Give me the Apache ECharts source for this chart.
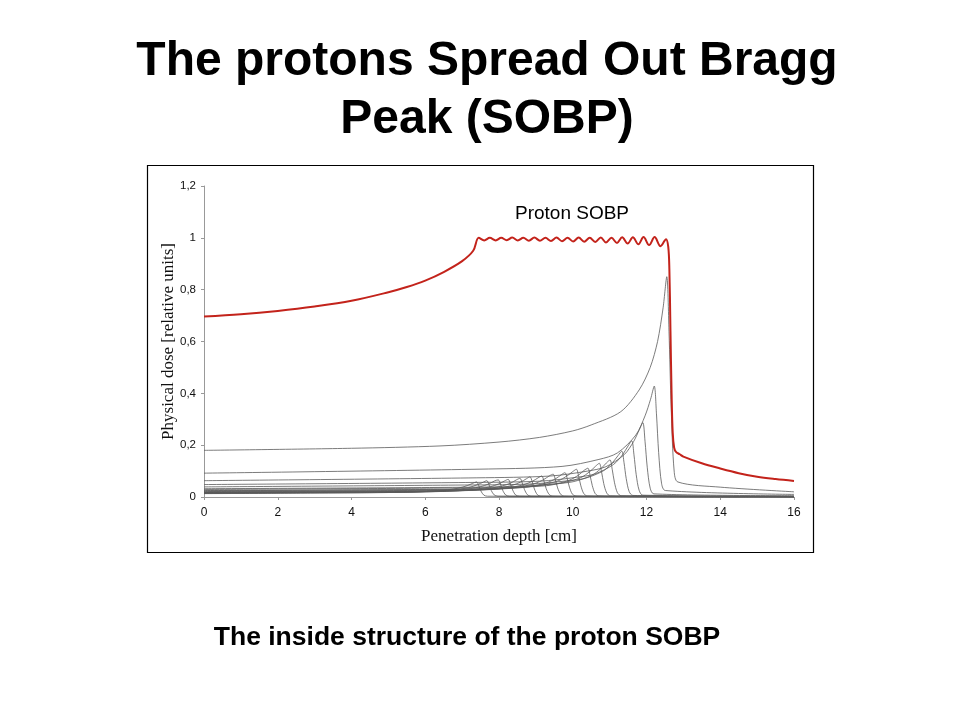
<!DOCTYPE html>
<html>
<head>
<meta charset="utf-8">
<script src="https://cdn.jsdelivr.net/npm/echarts@6/dist/echarts.min.js"></script>
<style>
html,body{margin:0;padding:0;background:#fff;}
#chart{width:960px;height:720px;}
</style>
</head>
<body>
<div id="chart"></div>
<script>
// ---- Axis ticks ----
const xTicks = [0, 2, 4, 6, 8, 10, 12, 14, 16];
const yTicks = [0, 0.2, 0.4, 0.6, 0.8, 1, 1.2];

// ---- Proton SOBP (red) : [depth cm, dose] ----
const sobp = [
  [0, 0.696], [1, 0.705], [2, 0.718], [3, 0.735], [4, 0.757], [5, 0.790],
  [5.5, 0.810], [6, 0.835], [6.5, 0.868], [7, 0.910], [7.3, 0.950], [7.45, 1.000],
  [7.60, 0.990], [7.75, 1.000], [7.91, 0.990], [8.06, 1.000], [8.21, 0.991],
  [8.36, 1.001], [8.51, 0.990], [8.66, 1.000], [8.81, 0.989], [8.96, 1.001],
  [9.11, 0.989], [9.26, 1.000], [9.41, 0.988], [9.56, 1.001], [9.71, 0.987],
  [9.86, 1.000], [10.01, 0.986], [10.16, 1.001], [10.31, 0.985], [10.46, 1.000],
  [10.61, 0.984], [10.76, 1.001], [10.90, 0.982], [11.05, 1.000], [11.20, 0.980],
  [11.34, 1.002], [11.49, 0.978], [11.63, 1.002], [11.78, 0.975], [11.92, 1.003],
  [12.07, 0.972], [12.22, 1.003], [12.38, 0.968], [12.53, 0.995], [12.59, 0.965],
  [12.62, 0.880], [12.65, 0.640], [12.68, 0.400], [12.71, 0.250], [12.75, 0.190],
  [12.80, 0.174], [12.90, 0.165], [13.0, 0.156], [13.5, 0.130], [14, 0.110], [14.5, 0.092],
  [15, 0.078], [15.5, 0.069], [16, 0.062]
];

// ---- Pristine Bragg peaks (grey) : [depth cm, dose] ----
const bragg01 = [[0,0.013],[2.89,0.015],[4.89,0.017],[5.89,0.021],[6.39,0.024],[6.89,0.034],[7.14,0.044],[7.29,0.053],[7.39,0.058],[7.45,0.044],[7.51,0.023],[7.59,0.007],[7.69,0.003],[16,0.001]];
const bragg02 = [[0,0.014],[3.17,0.016],[5.17,0.018],[6.17,0.022],[6.67,0.026],[7.17,0.036],[7.42,0.048],[7.57,0.057],[7.67,0.063],[7.73,0.047],[7.79,0.025],[7.87,0.008],[7.97,0.003],[16,0.001]];
const bragg03 = [[0,0.015],[3.48,0.018],[5.48,0.019],[6.48,0.024],[6.98,0.028],[7.48,0.039],[7.73,0.051],[7.88,0.062],[7.98,0.066],[8.04,0.050],[8.10,0.026],[8.18,0.008],[8.28,0.003],[16,0.001]];
const bragg04 = [[0,0.015],[3.75,0.018],[5.75,0.019],[6.75,0.024],[7.25,0.028],[7.75,0.039],[8.00,0.051],[8.15,0.062],[8.25,0.068],[8.31,0.051],[8.37,0.027],[8.45,0.008],[8.55,0.003],[16,0.001]];
const bragg05 = [[0,0.016],[4.07,0.019],[6.07,0.020],[7.07,0.025],[7.57,0.030],[8.07,0.042],[8.32,0.054],[8.47,0.066],[8.57,0.072],[8.63,0.054],[8.69,0.029],[8.77,0.009],[8.87,0.003],[16,0.001]];
const bragg06 = [[0,0.017],[4.34,0.020],[6.34,0.022],[7.34,0.027],[7.84,0.031],[8.34,0.044],[8.59,0.058],[8.74,0.070],[8.84,0.078],[8.90,0.059],[8.96,0.031],[9.04,0.009],[9.14,0.003],[16,0.001]];
const bragg07 = [[0,0.018],[4.66,0.021],[6.66,0.023],[7.66,0.028],[8.16,0.033],[8.66,0.047],[8.91,0.061],[9.06,0.074],[9.16,0.081],[9.22,0.061],[9.28,0.032],[9.36,0.010],[9.46,0.003],[16,0.001]];
const bragg08 = [[0,0.020],[4.97,0.023],[6.97,0.026],[7.97,0.032],[8.47,0.037],[8.97,0.052],[9.22,0.068],[9.37,0.082],[9.47,0.088],[9.53,0.066],[9.59,0.035],[9.67,0.011],[9.77,0.003],[16,0.001]];
const bragg09 = [[0,0.021],[5.29,0.025],[7.29,0.027],[8.29,0.033],[8.79,0.039],[9.29,0.055],[9.54,0.071],[9.69,0.086],[9.79,0.094],[9.85,0.071],[9.91,0.038],[9.99,0.011],[10.09,0.004],[16,0.001]];
const bragg10 = [[0,0.024],[5.60,0.028],[7.60,0.031],[8.60,0.038],[9.10,0.044],[9.60,0.062],[9.85,0.082],[10.00,0.098],[10.10,0.107],[10.16,0.080],[10.22,0.043],[10.30,0.013],[10.40,0.004],[16,0.001]];
const bragg11 = [[0,0.025],[5.91,0.029],[7.91,0.032],[8.91,0.040],[9.41,0.046],[9.91,0.065],[10.16,0.085],[10.31,0.103],[10.41,0.111],[10.47,0.083],[10.53,0.044],[10.61,0.013],[10.71,0.004],[16,0.001]];
const bragg12 = [[0,0.029],[6.22,0.034],[8.22,0.037],[9.22,0.046],[9.72,0.054],[10.22,0.075],[10.47,0.099],[10.62,0.119],[10.72,0.130],[10.78,0.098],[10.84,0.052],[10.92,0.016],[11.02,0.004],[16,0.001]];
const bragg13 = [[0,0.032],[6.51,0.037],[8.51,0.041],[9.51,0.051],[10.01,0.059],[10.51,0.083],[10.76,0.109],[10.91,0.131],[11.01,0.143],[11.07,0.107],[11.13,0.057],[11.21,0.017],[11.31,0.005],[16,0.002]];
const bragg14 = [[0,0.039],[6.83,0.046],[8.83,0.050],[9.83,0.062],[10.33,0.072],[10.83,0.101],[11.08,0.133],[11.23,0.160],[11.33,0.177],[11.39,0.133],[11.45,0.071],[11.53,0.021],[11.63,0.006],[16,0.002]];
const bragg15 = [[0,0.048],[7.10,0.056],[9.10,0.061],[10.10,0.076],[10.60,0.089],[11.10,0.125],[11.35,0.163],[11.50,0.197],[11.60,0.217],[11.66,0.163],[11.72,0.087],[11.80,0.026],[11.90,0.007],[16,0.003]];
const bragg16 = [[0,0.063],[7.40,0.074],[9.40,0.081],[10.40,0.100],[10.90,0.117],[11.40,0.164],[11.65,0.214],[11.80,0.258],[11.90,0.287],[11.96,0.215],[12.02,0.115],[12.10,0.034],[12.20,0.012],[16,0.005]];
const bragg17 = [[0,0.092],[7.71,0.108],[9.71,0.118],[10.71,0.145],[11.21,0.170],[11.71,0.239],[11.96,0.313],[12.11,0.377],[12.21,0.428],[12.27,0.321],[12.33,0.171],[12.41,0.051],[12.51,0.025],[16,0.010]];
const bragg18 = [[0,0.180],[4,0.188],[6.4,0.197],[8,0.212],[9.1,0.230],[10,0.255],[10.5,0.278],[11.3,0.329],[11.8,0.413],[12.1,0.500],[12.3,0.600],[12.45,0.730],[12.55,0.850],[12.61,0.640],[12.67,0.340],[12.75,0.100],[12.85,0.058],[14,0.038],[16,0.020]];

const braggCurves = [bragg01,bragg02,bragg03,bragg04,bragg05,bragg06,bragg07,bragg08,bragg09,
                     bragg10,bragg11,bragg12,bragg13,bragg14,bragg15,bragg16,bragg17,bragg18];

const chart = echarts.init(document.getElementById('chart'), null, {renderer: 'canvas'});

const series = braggCurves.map((d, i) => ({
  type: 'line', name: 'Bragg ' + (i + 1), data: d,
  showSymbol: false, smooth: 0.3, silent: true,
  lineStyle: {color: '#5a5a5a', width: 0.8}, z: 2
}));
series.push({
  type: 'line', name: 'Proton SOBP', data: sobp,
  showSymbol: false, smooth: 0.35, silent: true,
  lineStyle: {color: '#c3231b', width: 2}, z: 5
});

const option = {
  backgroundColor: '#ffffff',
  animation: false,
  grid: {left: 204, right: 166, top: 186, bottom: 223, containLabel: false},
  xAxis: {
    type: 'value', min: xTicks[0], max: xTicks[xTicks.length - 1], interval: 2,
    name: 'Penetration depth [cm]', nameLocation: 'middle', nameGap: 31, nameMoveOverlap: false,
    nameTextStyle: {fontFamily: 'Liberation Serif', fontSize: 17, color: '#111'},
    axisLine: {lineStyle: {color: '#999', width: 1}},
    axisTick: {show: true, length: 3, lineStyle: {color: '#999'}},
    axisLabel: {fontFamily: 'Liberation Sans', fontSize: 12, color: '#111', margin: 10,
      formatter: v => String(v)},
    splitLine: {show: false}
  },
  yAxis: {
    type: 'value', min: yTicks[0], max: yTicks[yTicks.length - 1], interval: 0.2,
    name: 'Physical dose [relative units]', nameLocation: 'middle', nameGap: 27, nameMoveOverlap: false,
    nameTextStyle: {fontFamily: 'Liberation Serif', fontSize: 17, color: '#111'},
    axisLine: {show: true, lineStyle: {color: '#999', width: 1}},
    axisTick: {show: true, length: 3, lineStyle: {color: '#999'}},
    axisLabel: {fontFamily: 'Liberation Sans', fontSize: 11.5, color: '#111', margin: 8,
      formatter: v => String(Math.round(v * 10) / 10).replace('.', ',')},
    splitLine: {show: false}
  },
  graphic: [
    {type: 'rect', z: 0, silent: true,
     shape: {x: 147.5, y: 165.5, width: 666, height: 387},
     style: {fill: '#fff', stroke: '#000', lineWidth: 1.2}},
    {type: 'text', z: 10, silent: true,
     style: {text: 'The protons Spread Out Bragg', x: 487, y: 62, textAlign: 'center', textVerticalAlign: 'middle',
       font: 'bold 48px "Liberation Sans", Arial, sans-serif', fill: '#000'}},
    {type: 'text', z: 10, silent: true,
     style: {text: 'Peak (SOBP)', x: 487, y: 120, textAlign: 'center', textVerticalAlign: 'middle',
       font: 'bold 48px "Liberation Sans", Arial, sans-serif', fill: '#000'}},
    {type: 'text', z: 10, silent: true,
     style: {text: 'Proton SOBP', x: 572, y: 214, textAlign: 'center', textVerticalAlign: 'middle',
       font: '19px "Liberation Sans", Arial, sans-serif', fill: '#000'}},
    {type: 'text', z: 10, silent: true,
     style: {text: 'The inside structure of the proton SOBP', x: 467, y: 638, textAlign: 'center', textVerticalAlign: 'middle',
       font: 'bold 26.5px "Liberation Sans", Arial, sans-serif', fill: '#000'}}
  ],
  series: series
};
chart.setOption(option);
</script>
</body>
</html>
